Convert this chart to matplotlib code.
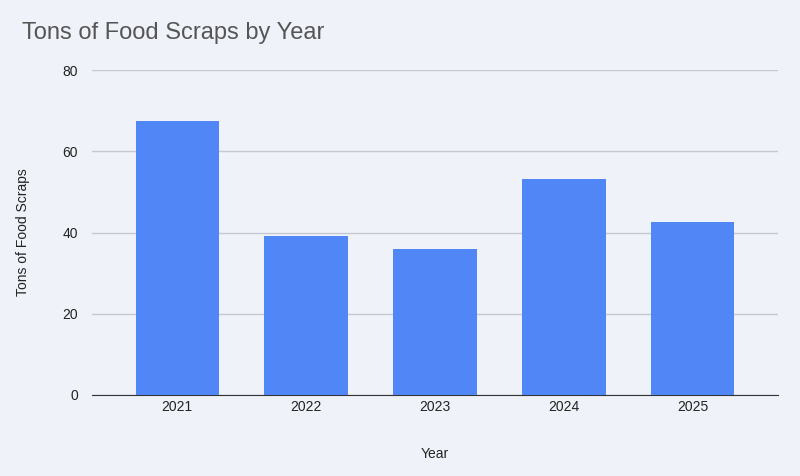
import matplotlib
matplotlib.use("Agg")
import matplotlib.pyplot as plt

plt.rcParams['font.family'] = ['Liberation Sans', 'DejaVu Sans']

years = ["2021", "2022", "2023", "2024", "2025"]
tons = [67.4, 39.1, 35.9, 53.2, 42.6]
yticks = [0, 20, 40, 60, 80]

bg = "#eff3f9"
fig = plt.figure(figsize=(8, 4.76), dpi=100, facecolor=bg)
ax = fig.add_axes([92/800, 1-395/476, (778-92)/800, 325/476], facecolor=bg)
ax.bar(range(len(years)), tons, width=0.645, color="#5086f6", zorder=3)
ax.set_xlim(-0.66, len(years)-0.34)
ax.set_ylim(0, 80)
ax.set_yticks(yticks)
ax.set_xticks(range(len(years)))
ax.set_xticklabels(years)
ax.grid(axis="y", color="#c5c9d0", linewidth=1, zorder=0)
for s in ["top", "right", "left"]:
    ax.spines[s].set_visible(False)
ax.spines["bottom"].set_color("#333333")
ax.tick_params(length=0, labelsize=10, colors="#222222")
ax.tick_params(axis="y", pad=10)
ax.set_xlabel("Year", fontsize=10, labelpad=24, color="#222222")
ax.set_ylabel("Tons of Food Scraps", fontsize=10, labelpad=40, color="#222222")
ax.yaxis.set_label_coords(-62/686, 0.5)
fig.text(22/800, 1-33/476, "Tons of Food Scraps by Year", fontsize=17, color="#555555", va="center")
fig.savefig("out.png", dpi=100, facecolor=bg)
